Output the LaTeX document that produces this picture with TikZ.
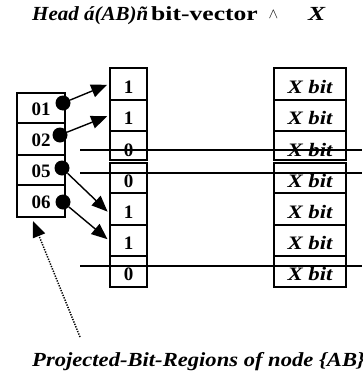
\documentclass[tikz,border=0pt]{standalone}
\usepackage{fontspec}
\setmainfont{Liberation Serif}
\usetikzlibrary{arrows.meta}
\newcommand{\hsc}[2]{\scalebox{#1}[1]{#2}}
\begin{document}
\begin{tikzpicture}[x=1pt,y=-1pt,
  box/.style={draw, line width=1.9pt, inner sep=0pt, font=\fontsize{19}{19}\selectfont\bfseries},
  bitcell/.style={box, minimum width=37pt, text height=18pt, text depth=0pt},
  xcell/.style={box, minimum width=72pt, text height=18pt, text depth=0pt},
  idcell/.style={box, minimum width=48pt, text height=14pt, text depth=0pt},
  lowertext/.style={text height=22pt, text depth=0pt},
  dot/.style={circle, fill, inner sep=0pt, minimum size=15pt},
  ptr/.style={line width=1.4pt, shorten >=2pt, -{Triangle[length=16pt,width=13pt]}},
  strike/.style={line width=1.9pt},
  note/.style={line width=1.5pt, dash pattern=on 1.3pt off 1.3pt, -{Triangle[length=16pt,width=13pt]}},
  ttl/.style={inner sep=0pt, anchor=base west, font=\fontsize{20}{20}\selectfont},
]
\useasboundingbox (0,0) rectangle (362,383);

% title
\node[ttl] (t1) at (32,20) {\hsc{1.05}{\bfseries\itshape Head á(AB)ñ}};
\node[ttl] (t2) at (151,20) {\hsc{1.28}{\bfseries bit-vector}};
\node[inner sep=0pt, font=\fontsize{15}{15}\selectfont] (t3) at (273.5,14.5) {$\wedge$};
\node[ttl] (t4) at (308,20) {\hsc{1.28}{\bfseries\itshape X}};

% middle bit-vector column
\node[bitcell, minimum height=32pt] (m1) at (128.5,84) {1};
\node[bitcell, minimum height=31pt] (m2) at (128.5,115.5) {1};
\node[bitcell, minimum height=29pt, lowertext] (m3) at (128.5,145.5) {0};
\node[bitcell, minimum height=30pt] (m4) at (128.5,178) {0};
\node[bitcell, minimum height=32pt] (m5) at (128.5,209) {1};
\node[bitcell, minimum height=31pt] (m6) at (128.5,240.5) {1};
\node[bitcell, minimum height=31pt] (m7) at (128.5,271.5) {0};

% right X column
\node[xcell, minimum height=32pt] (r1) at (310,84) {\hsc{1.2}{\itshape X bit}};
\node[xcell, minimum height=31pt] (r2) at (310,115.5) {\hsc{1.2}{\itshape X bit}};
\node[xcell, minimum height=29pt, lowertext] (r3) at (310,145.5) {\hsc{1.2}{\itshape X bit}};
\node[xcell, minimum height=30pt] (r4) at (310,178) {\hsc{1.2}{\itshape X bit}};
\node[xcell, minimum height=32pt] (r5) at (310,209) {\hsc{1.2}{\itshape X bit}};
\node[xcell, minimum height=31pt] (r6) at (310,240.5) {\hsc{1.2}{\itshape X bit}};
\node[xcell, minimum height=31pt] (r7) at (310,271.5) {\hsc{1.2}{\itshape X bit}};

% left node-id column
\node[idcell, minimum height=30pt] (l1) at (41,108) {01};
\node[idcell, minimum height=32pt] (l2) at (41,139) {02};
\node[idcell, minimum height=30pt] (l3) at (41,170) {05};
\node[idcell, minimum height=32pt] (l4) at (41,201) {06};

% pointer dots
\node[dot] (d1) at (63,103) {};
\node[dot] (d2) at (60,135) {};
\node[dot] (d3) at (62,168) {};
\node[dot] (d4) at (63,202) {};

\draw[ptr] (d1) -- (m1.west);
\draw[ptr] (d2) -- (m2.west);
\draw[ptr] (d3) -- ([yshift=-4pt]m5.west);
\draw[ptr] (d4) -- (m6.west);

% strike-through lines
\coordinate (s1a) at (80,150);  \coordinate (s1b) at (362,150);
\coordinate (s2a) at (80,173);  \coordinate (s2b) at (362,173);
\coordinate (s3a) at (80,266);  \coordinate (s3b) at (362,266);
\draw[strike] (s1a) -- (s1b);
\draw[strike] (s2a) -- (s2b);
\draw[strike] (s3a) -- (s3b);

% annotation
\coordinate (ntail) at (80,337);
\coordinate (nhead) at (33,221);
\draw[note] (ntail) -- (nhead);
\node[ttl] (cap) at (32,366) {\hsc{1.13}{\bfseries\itshape Projected-Bit-Regions of node \{AB\}}};
\end{tikzpicture}
\end{document}
